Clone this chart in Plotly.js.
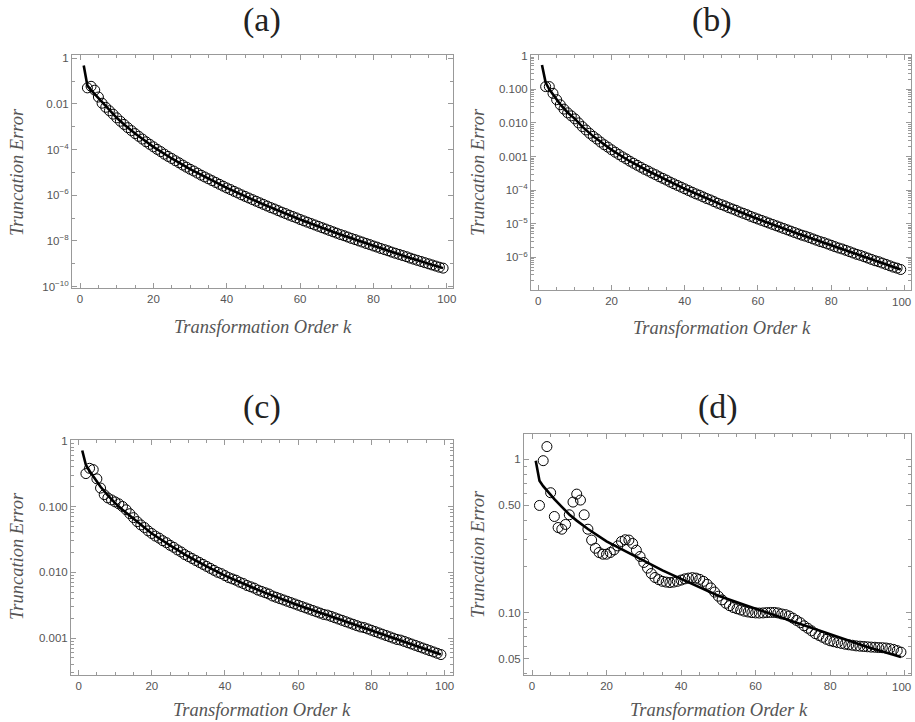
<!DOCTYPE html>
<html>
<head>
<meta charset="utf-8">
<script src="https://cdn.plot.ly/plotly-3.0.1.min.js"></script>
<style>html,body{margin:0;padding:0;background:#fff;overflow:hidden;}#chart{width:915px;height:722px;}</style>
</head>
<body>
<div id="chart"></div>
<script>
// Transformation order k for the circle markers
const kCircles = [2,3,4,5,6,7,8,9,10,11,12,13,14,15,16,17,18,19,20,21,22,23,24,25,26,27,28,29,30,
31,32,33,34,35,36,37,38,39,40,41,42,43,44,45,46,47,48,49,50,51,52,53,54,55,56,57,58,59,60,
61,62,63,64,65,66,67,68,69,70,71,72,73,74,75,76,77,78,79,80,81,82,83,84,85,86,87,88,89,90,
91,92,93,94,95,96,97,98,99];
// k for the solid reference curve
const lineK = [1,2,3,4,5,6,8,10,12,15,20,25,30,35,40,50,60,70,80,90,99];

// log10 of truncation error
const log10ErrA = [-1.30,-1.23,-1.40,-1.70,-1.97,-2.15,-2.30,-2.45,-2.61,
-2.76,-2.90,-3.04,-3.17,-3.30,-3.42,-3.54,-3.66,-3.77,-3.88,
-3.99,-4.09,-4.20,-4.30,-4.39,-4.49,-4.58,-4.68,-4.77,-4.86,
-4.94,-5.03,-5.12,-5.20,-5.28,-5.36,-5.44,-5.52,-5.60,-5.68,
-5.75,-5.83,-5.90,-5.98,-6.05,-6.12,-6.19,-6.26,-6.33,-6.40,
-6.47,-6.54,-6.60,-6.67,-6.74,-6.80,-6.87,-6.93,-6.99,-7.06,
-7.12,-7.18,-7.24,-7.30,-7.36,-7.42,-7.48,-7.54,-7.60,-7.66,
-7.72,-7.77,-7.83,-7.89,-7.94,-8.00,-8.05,-8.11,-8.16,-8.22,
-8.27,-8.33,-8.38,-8.43,-8.49,-8.54,-8.59,-8.64,-8.69,-8.75,
-8.80,-8.85,-8.90,-8.95,-9.00,-9.05,-9.10,-9.15,-9.19];
const log10LineA = [-0.32,-1.20,-1.40,-1.58,-1.76,-1.93,-2.29,-2.61,-2.90,-3.30,-3.88,-4.39,-4.86,-5.28,-5.68,-6.40,-7.06,-7.66,-8.22,-8.75,-9.19];

const log10ErrB = [-0.92,-0.92,-1.12,-1.31,-1.46,-1.59,-1.70,-1.79,-1.88,
-2.00,-2.11,-2.21,-2.31,-2.40,-2.48,-2.57,-2.65,-2.72,-2.80,
-2.87,-2.94,-3.01,-3.07,-3.14,-3.20,-3.26,-3.32,-3.38,-3.43,
-3.49,-3.54,-3.60,-3.65,-3.70,-3.76,-3.81,-3.86,-3.91,-3.96,
-4.01,-4.06,-4.11,-4.15,-4.20,-4.25,-4.29,-4.34,-4.39,-4.43,
-4.47,-4.52,-4.56,-4.60,-4.65,-4.69,-4.73,-4.78,-4.82,-4.86,
-4.90,-4.94,-4.98,-5.02,-5.06,-5.10,-5.14,-5.18,-5.22,-5.26,
-5.30,-5.34,-5.37,-5.41,-5.45,-5.49,-5.53,-5.56,-5.60,-5.64,
-5.68,-5.72,-5.75,-5.79,-5.83,-5.87,-5.91,-5.94,-5.98,-6.02,
-6.06,-6.10,-6.13,-6.17,-6.21,-6.25,-6.29,-6.32,-6.36];
const log10LineB = [-0.28,-0.80,-1.00,-1.16,-1.31,-1.45,-1.69,-1.88,-2.11,-2.40,-2.80,-3.14,-3.43,-3.70,-3.96,-4.43,-4.86,-5.26,-5.64,-6.02,-6.36];

const log10ErrC = [-0.50,-0.42,-0.44,-0.58,-0.72,-0.82,-0.87,-0.90,-0.93,
-0.96,-1.00,-1.05,-1.11,-1.17,-1.23,-1.28,-1.32,-1.37,-1.41,
-1.45,-1.48,-1.52,-1.55,-1.59,-1.62,-1.66,-1.69,-1.73,-1.76,
-1.79,-1.82,-1.85,-1.88,-1.91,-1.94,-1.97,-2.00,-2.02,-2.05,
-2.08,-2.10,-2.12,-2.15,-2.17,-2.20,-2.22,-2.24,-2.27,-2.29,
-2.31,-2.33,-2.36,-2.38,-2.40,-2.42,-2.44,-2.46,-2.48,-2.50,
-2.52,-2.54,-2.56,-2.58,-2.60,-2.62,-2.64,-2.65,-2.67,-2.69,
-2.71,-2.73,-2.75,-2.77,-2.79,-2.81,-2.83,-2.84,-2.86,-2.88,
-2.90,-2.92,-2.94,-2.96,-2.98,-3.00,-3.02,-3.03,-3.05,-3.07,
-3.09,-3.11,-3.13,-3.15,-3.17,-3.19,-3.21,-3.23,-3.25];
const log10LineC = [-0.15,-0.37,-0.46,-0.54,-0.62,-0.70,-0.83,-0.95,-1.05,-1.19,-1.41,-1.59,-1.76,-1.91,-2.05,-2.29,-2.50,-2.69,-2.88,-3.07,-3.25];

const log10ErrD = [-0.301,-0.009,0.083,-0.218,-0.373,-0.445,-0.456,-0.425,-0.362,
-0.279,-0.227,-0.266,-0.362,-0.456,-0.527,-0.580,-0.608,-0.619,-0.619,
-0.608,-0.591,-0.565,-0.536,-0.525,-0.527,-0.549,-0.593,-0.634,-0.673,
-0.710,-0.745,-0.771,-0.785,-0.796,-0.801,-0.804,-0.801,-0.796,-0.788,
-0.780,-0.775,-0.772,-0.775,-0.783,-0.796,-0.815,-0.839,-0.866,-0.893,
-0.917,-0.939,-0.955,-0.967,-0.975,-0.983,-0.991,-0.996,-1.000,-1.002,
-1.003,-1.002,-1.000,-0.999,-0.999,-1.002,-1.009,-1.013,-1.022,-1.036,
-1.051,-1.066,-1.086,-1.102,-1.119,-1.137,-1.149,-1.161,-1.174,-1.184,
-1.190,-1.196,-1.201,-1.206,-1.210,-1.213,-1.217,-1.219,-1.221,-1.223,
-1.225,-1.226,-1.228,-1.229,-1.231,-1.235,-1.240,-1.248,-1.258];
const log10LineD = [-0.01,-0.14,-0.175,-0.205,-0.235,-0.26,-0.31,-0.36,-0.40,-0.455,-0.535,-0.60,-0.665,-0.725,-0.78,-0.89,-0.975,-1.06,-1.145,-1.225,-1.29];

// Tick labels
const xTickVals = [0,20,40,60,80,100];
const xTickText = ["0","20","40","60","80","100"];
const yTickValsA = [1,1e-2,1e-4,1e-6,1e-8,1e-10];
const yTickTextA = ["1","0.01","10<sup>−4</sup>","10<sup>−6</sup>","10<sup>−8</sup>","10<sup>−10</sup>"];
const yTickValsB = [1,0.1,0.01,0.001,1e-4,1e-5,1e-6];
const yTickTextB = ["1","0.100","0.010","0.001","10<sup>−4</sup>","10<sup>−5</sup>","10<sup>−6</sup>"];
const yTickValsC = [1,0.1,0.01,0.001];
const yTickTextC = ["1","0.100","0.010","0.001"];
const yTickValsD = [1,0.5,0.1,0.05];
const yTickTextD = ["1","0.50","0.10","0.05"];
const panelTitles = ["(a)","(b)","(c)","(d)"];
const xTitle = "Transformation Order k";
const yTitle = "Truncation Error";

const W = 915, H = 722;
const toVal = arr => arr.map(v => Math.pow(10, v));

function minorLog(lo, hi, mults) {
  const out = [];
  for (let e = Math.floor(lo); e <= Math.ceil(hi); e++) {
    for (const m of mults) out.push(m * Math.pow(10, e));
  }
  return out;
}

// panel boxes in pixels: [left, right, top, bottom], axis ranges
const panels = [
  {box:[72,453,55,288], xr:[-2.2,101.7], yr:[-10.06,0.14], tv:yTickValsA, tt:yTickTextA, circ:log10ErrA, line:log10LineA,
   minor: minorLog(-11,1,[1]).filter(v=>!yTickValsA.some(t=>Math.abs(Math.log10(t)-Math.log10(v))<1e-6)),
   title:[262,20], yt:[17,172], xt:[263,327], edge:false},
  {box:[531,911,55,290], xr:[-2.0,101.8], yr:[-6.97,0.02], tv:yTickValsB, tt:yTickTextB, circ:log10ErrB, line:log10LineB,
   minor: minorLog(-7,0,[2,3,4,5,6,7,8,9]),
   title:[712,20], yt:[478,172], xt:[722,328], edge:true},
  {box:[71,453,440,675], xr:[-2.07,102.3], yr:[-3.56,0.01], tv:yTickValsC, tt:yTickTextC, circ:log10ErrC, line:log10LineC,
   minor: minorLog(-4,0,[2,3,4,5,6,7,8,9]),
   title:[262,407], yt:[17,556], xt:[262,710], edge:false},
  {box:[524,911,434,675], xr:[-2.15,101.7], yr:[-1.407,0.165], tv:yTickValsD, tt:yTickTextD, circ:log10ErrD, line:log10LineD,
   minor: minorLog(-2,0,[1,2,3,4,6,7,8,9]).filter(v=>!yTickValsD.some(t=>Math.abs(t-v)<1e-9)),
   title:[718,407], yt:[478,554], xt:[719,710], edge:true}
];

const data = [];
const layout = {
  width: W, height: H,
  margin: {l:0, r:0, t:0, b:0},
  paper_bgcolor: '#fff', plot_bgcolor: '#fff',
  showlegend: false,
  annotations: []
};

const tickFont = {family: 'Liberation Sans, Arial, sans-serif', size: 11.5, color: '#555'};
const titleFont = {family: 'Liberation Serif, serif', size: 18.5, color: '#555'};

panels.forEach((p, i) => {
  const n = i === 0 ? '' : String(i + 1);
  const xa = 'x' + n, ya = 'y' + n;
  data.push({
    x: kCircles, y: toVal(p.circ), xaxis: xa, yaxis: ya,
    type: 'scatter', mode: 'markers',
    marker: {symbol: 'circle-open', size: 10, color: '#000', line: {width: 1, color: '#000'}},
    hoverinfo: 'skip'
  });
  data.push({
    x: lineK, y: toVal(p.line), xaxis: xa, yaxis: ya,
    type: 'scatter', mode: 'lines',
    line: {color: '#000', width: 2.6},
    hoverinfo: 'skip'
  });
  const [l, r, t, b] = p.box;
  // the right-edge "100" label of the right-hand panels is drawn as an annotation
  const xt = p.edge ? xTickText.map(s => s === "100" ? "" : s) : xTickText;
  if (p.edge) {
    layout.annotations.push({
      xref: 'paper', yref: 'paper', x: 0.985, y: 1 - (b + 12) / H,
      xanchor: 'center', yanchor: 'middle', showarrow: false,
      text: "100", font: tickFont
    });
  }
  layout['xaxis' + n] = {
    domain: [l / W, r / W], anchor: ya, range: p.xr,
    showgrid: false, zeroline: false,
    showline: true, linecolor: '#999', linewidth: 1, mirror: 'ticks',
    ticks: 'inside', ticklen: 5, tickcolor: '#999', tickwidth: 1,
    tickmode: 'array', tickvals: xTickVals, ticktext: xt,
    tickfont: tickFont,
    minor: {ticks: 'inside', ticklen: 3, tickcolor: '#999', tickmode: 'linear', tick0: 0, dtick: 5, showgrid: false}
  };
  layout['yaxis' + n] = {
    domain: [1 - b / H, 1 - t / H], anchor: xa, type: 'log', range: p.yr,
    showgrid: false, zeroline: false,
    showline: true, linecolor: '#999', linewidth: 1, mirror: 'ticks',
    ticks: 'inside', ticklen: 5, tickcolor: '#999', tickwidth: 1,
    tickmode: 'array', tickvals: p.tv, ticktext: p.tt,
    tickfont: tickFont,
    minor: {ticks: 'inside', ticklen: 3, tickcolor: '#999', tickmode: 'array', tickvals: p.minor, showgrid: false}
  };
  layout.annotations.push({
    xref: 'paper', yref: 'paper', x: p.title[0] / W, y: 1 - p.title[1] / H,
    xanchor: 'center', yanchor: 'middle', showarrow: false,
    text: panelTitles[i], font: {family: 'Liberation Serif, serif', size: 34, color: '#222'}
  });
  layout.annotations.push({
    xref: 'paper', yref: 'paper', x: p.yt[0] / W, y: 1 - p.yt[1] / H,
    xanchor: 'center', yanchor: 'middle', showarrow: false, textangle: -90,
    text: '<i>' + yTitle + '</i>', font: titleFont
  });
  layout.annotations.push({
    xref: 'paper', yref: 'paper', x: p.xt[0] / W, y: 1 - p.xt[1] / H,
    xanchor: 'center', yanchor: 'middle', showarrow: false,
    text: '<i>' + xTitle + '</i>', font: titleFont
  });
});

Plotly.newPlot('chart', data, layout, {displayModeBar: false, staticPlot: true});
</script>
</body>
</html>
